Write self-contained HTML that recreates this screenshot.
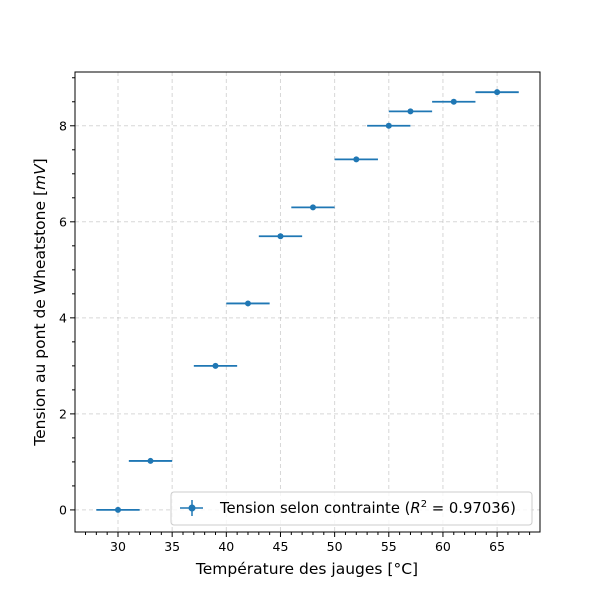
<!DOCTYPE html>
<html><head><meta charset="utf-8"><style>
body{margin:0;background:#fff;font-family:"DejaVu Sans","Liberation Sans",sans-serif}
svg text{font-family:"DejaVu Sans","Liberation Sans",sans-serif}
</style></head><body>
<svg id="chart" width="600" height="598" xmlns="http://www.w3.org/2000/svg">
<g id="grid"></g>
<g id="axes"></g>
<g id="marks"></g>
<text x="307" y="574" font-size="15.5" text-anchor="middle">Température des jauges [°C]</text>
<text transform="translate(45,302) rotate(-90)" font-size="15.5" text-anchor="middle">Tension au pont de Wheatstone [<tspan font-style="italic">mV</tspan>]</text>
<g>
<rect x="171" y="492" width="361" height="33" rx="3" fill="#fff" fill-opacity="0.8" stroke="#ccc"/>
<line x1="180" y1="508" x2="203" y2="508" stroke="#1f77b4" stroke-width="1.5"/>
<line x1="192" y1="500" x2="192" y2="516" stroke="#1f77b4" stroke-width="1.5"/>
<circle cx="192" cy="508" r="3.5" fill="#1f77b4"/>
<text x="220" y="513" font-size="14.8">Tension selon contrainte (<tspan font-style="italic">R</tspan><tspan font-size="10" dy="-6">2</tspan><tspan dy="6"> = 0.97036)</tspan></text>
</g>
</svg>
<script>
const xs=[30,33,39,42,45,48,52,55,57,61,65];
const ys=[0,1.02,3,4.3,5.7,6.3,7.3,8,8.3,8.5,8.7];
const xerr=[2,2,2,2,2,2,2,2,2,2,2];
const xTicks=[30,35,40,45,50,55,60,65];
const yTicks=[0,2,4,6,8];
const L=75,R=540,T=72,B=532,x0=26.03,x1=68.96,y0=-0.46,y1=9.12;
const X=v=>L+(v-x0)/(x1-x0)*(R-L), Y=v=>B-(v-y0)/(y1-y0)*(B-T);
const NS="http://www.w3.org/2000/svg";
function mk(p,t,a){const e=document.createElementNS(NS,t);for(const k in a)e.setAttribute(k,a[k]);p.appendChild(e);return e;}
const grid=document.getElementById('grid'),axes=document.getElementById('axes'),marks=document.getElementById('marks');
xTicks.forEach(v=>{const g=mk(grid,'line',{x1:X(v),x2:X(v),y1:T,y2:B,stroke:'#b0b0b0','stroke-dasharray':'4,3','stroke-opacity':0.5});

mk(axes,'line',{x1:X(v),x2:X(v),y1:B,y2:B+5,stroke:'#000'});
const t=mk(axes,'text',{x:X(v),y:B+19,'font-size':12.5,'text-anchor':'middle'});t.textContent=v;
});
for(let v=27;v<=68;v++){if(v%5)mk(axes,'line',{x1:X(v),x2:X(v),y1:B,y2:B+3,stroke:'#000'});}
yTicks.forEach(v=>{const g=mk(grid,'line',{x1:L,x2:R,y1:Y(v),y2:Y(v),stroke:'#b0b0b0','stroke-dasharray':'4,3','stroke-opacity':0.5});

mk(axes,'line',{x1:L-5,x2:L,y1:Y(v),y2:Y(v),stroke:'#000'});
const t=mk(axes,'text',{x:L-8,y:Y(v)+4.5,'font-size':12.5,'text-anchor':'end'});t.textContent=v;
});
for(let v=-0.5;v<=9;v+=0.5){if(v%2&&v>y0)mk(axes,'line',{x1:L-3,x2:L,y1:Y(v),y2:Y(v),stroke:'#000'});}
const fr=mk(axes,'rect',{x:L,y:T,width:R-L,height:B-T,fill:'none',stroke:'#000'});

xs.forEach((v,i)=>{const l=mk(marks,'line',{x1:X(v-xerr[i]),x2:X(v+xerr[i]),y1:Y(ys[i]),y2:Y(ys[i]),stroke:'#1f77b4','stroke-width':1.8});

const c=mk(marks,'circle',{cx:X(v),cy:Y(ys[i]),r:3,fill:'#1f77b4'});
});
</script>
</body></html>
